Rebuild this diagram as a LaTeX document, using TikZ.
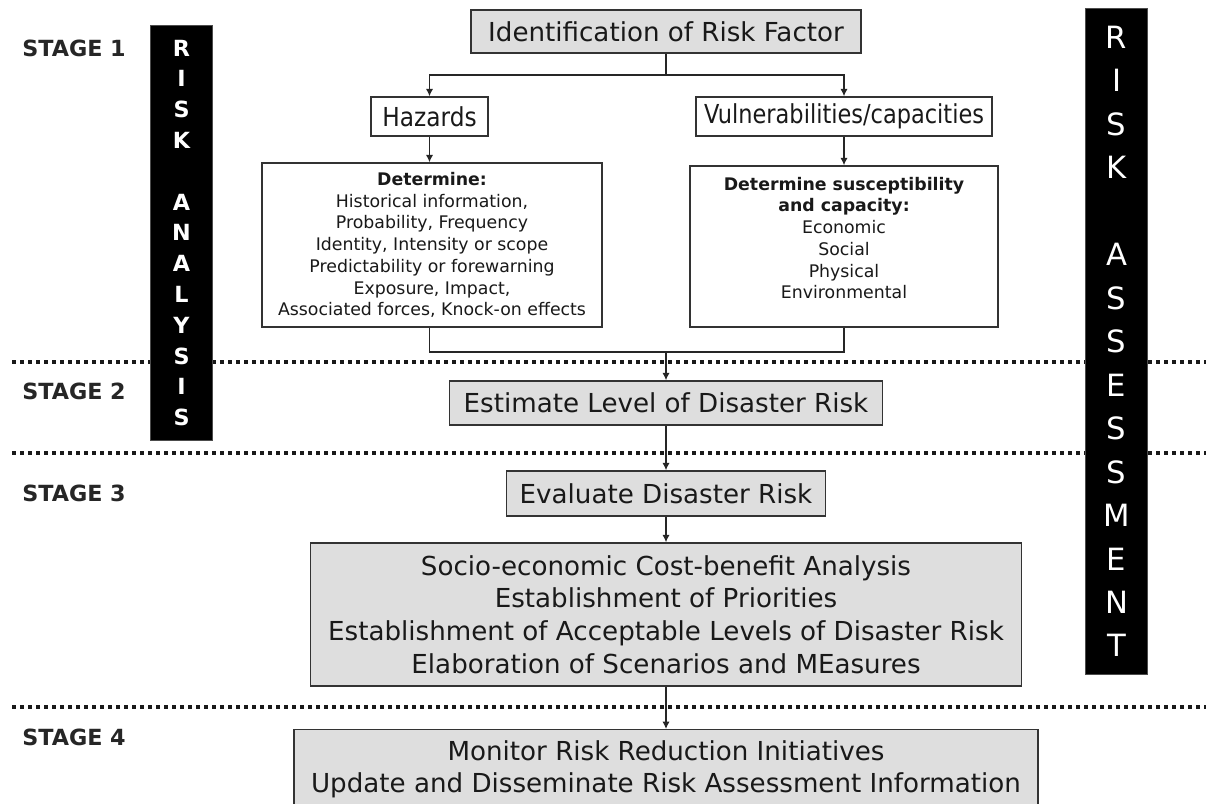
\documentclass[tikz,border=0pt]{standalone}
\usepackage{fontspec}
\setmainfont{DejaVu Sans}
\usetikzlibrary{arrows.meta}
\begin{document}
\begin{tikzpicture}[x=0.75pt,y=-0.75pt,
  box/.style={draw=black!80, line width=1.1pt, inner sep=0pt, fill=white,
    font=\fontsize{19.6}{24.4}\selectfont, text=black!90, align=center},
  graybox/.style={box, fill=black!13},
  wh/.style 2 args={minimum width=#1*0.75pt, minimum height=#2*0.75pt},
  conn/.style={draw=black!85, line width=1.1pt},
  arr/.style={conn, -{Latex[length=5.5pt,width=5.5pt]}},
  stagelbl/.style={font=\fontsize{16.7}{20}\selectfont\bfseries, anchor=west, inner sep=0pt, text=black!85},
  divider/.style={line width=3pt, dash pattern=on 3pt off 3pt, black!90},
  bar/.style={fill=black, draw=black!70, line width=0.8pt, inner sep=0pt, text=white, align=center},
  small/.style={font=\fontsize{13}{16.3}\selectfont, align=center, inner sep=0pt, text=black!90},
]
\clip (0,0) rectangle (1206,803);
\fill[white] (0,0) rectangle (1206,803);

% stage dividers
\draw[divider] (12,362) -- (1206,362);
\draw[divider] (12,453) -- (1206,453);
\draw[divider] (12,707) -- (1206,707);

% stage labels
\node[stagelbl] (s1) at (22,48.5) {STAGE 1};
\node[stagelbl] (s2) at (22,391.5) {STAGE 2};
\node[stagelbl] (s3) at (22,493.5) {STAGE 3};
\node[stagelbl] (s4) at (22,737.5) {STAGE 4};

% side bars
\node[bar, wh={62}{415}, anchor=north west,
  font=\fontsize{16.7}{23.1}\selectfont\bfseries] (lbar) at (150,25)
  {R\\I\\S\\K\\\mbox{}\\A\\N\\A\\L\\Y\\S\\I\\S};
\node[bar, wh={62}{666}, anchor=north west,
  font=\fontsize{23}{32.6}\selectfont] (rbar) at (1085,8)
  {R\\I\\S\\K\\\mbox{}\\A\\S\\S\\E\\S\\S\\M\\E\\N\\T};

% stage 1
\node[graybox, wh={390}{43}] (ident) at (666,31.5) {Identification of Risk Factor};
\node[box, wh={117}{39}] (haz) at (429.5,116.5) {\scalebox{0.89}[1]{Hazards}};
\node[box, wh={296}{39}] (vul) at (844,116.5) {\scalebox{0.86}[1]{Vulnerabilities/capacities}};
\node[box, small, wh={340}{164}] (det1) at (432,245)
  {\textbf{Determine:}\\Historical information,\\Probability, Frequency\\Identity, Intensity or scope\\Predictability or forewarning\\Exposure, Impact,\\Associated forces, Knock-on effects};
\node[box, wh={308}{161}] (det2) at (844,246.5) {};
\node[small] (det2txt) at (844,238)
  {\textbf{Determine susceptibility}\\\textbf{and capacity:}\\Economic\\Social\\Physical\\Environmental};

% stage 2-4
\node[graybox, wh={433}{44}] (est) at (666,403) {Estimate Level of Disaster Risk};
\node[graybox, wh={319}{45}] (eval) at (666,493.5) {Evaluate Disaster Risk};
\node[graybox, wh={711}{143}] (socio) at (666,614.5)
  {Socio-economic Cost-benefit Analysis\\Establishment of Priorities\\Establishment of Acceptable Levels of Disaster Risk\\Elaboration of Scenarios and MEasures};
\node[graybox, wh={744}{79}, anchor=north] (mon) at (666,729)
  {Monitor Risk Reduction Initiatives\\Update and Disseminate Risk Assessment Information};

% connectors
\coordinate (split) at (666,75);
\coordinate (merge) at (666,352);
\draw[conn] (ident.south) -- (split);
\draw[arr] (split) -| (haz.north);
\draw[arr] (split) -| (vul.north);
\draw[arr] (haz.south) -- (haz.south |- det1.north);
\draw[arr] (vul.south) -- (vul.south |- det2.north);
\draw[conn] (haz.south |- det1.south) |- (merge) -| (vul.south |- det2.south);
\draw[arr] (merge) -- (est.north);
\draw[arr] (est.south) -- (eval.north);
\draw[arr] (eval.south) -- (socio.north);
\draw[arr] (socio.south) -- (mon.north);
\end{tikzpicture}
\end{document}
